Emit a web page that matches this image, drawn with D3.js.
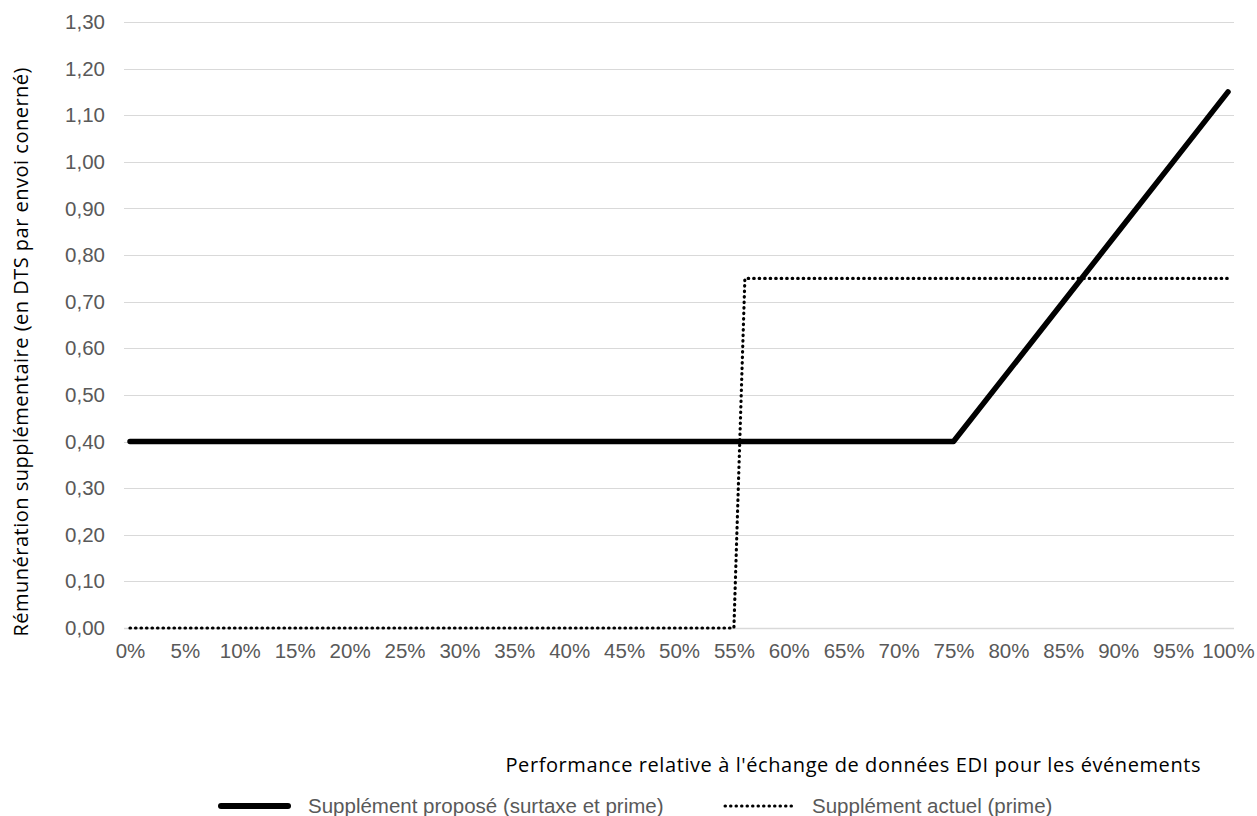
<!DOCTYPE html>
<html lang="fr">
<head>
<meta charset="utf-8">
<script src="https://cdn.jsdelivr.net/npm/d3@7"></script>
<style>
  html, body { margin: 0; padding: 0; background: #ffffff; }
  svg { display: block; }
</style>
</head>
<body>
<svg id="chart" width="1257" height="816"></svg>
<script>
// Performance levels (%) shown on the horizontal axis
const xTickValues = [0, 5, 10, 15, 20, 25, 30, 35, 40, 45, 50, 55, 60, 65, 70, 75, 80, 85, 90, 95, 100];
// Remuneration levels (SDR) shown on the vertical axis
const yTickValues = [0, 0.1, 0.2, 0.3, 0.4, 0.5, 0.6, 0.7, 0.8, 0.9, 1.0, 1.1, 1.2, 1.3];

// Proposed supplement (surcharge + bonus): performance % and SDR amount
const proposedPerf = [0, 75, 80, 85, 90, 95, 100];
const proposedValue = [0.40, 0.40, 0.55, 0.70, 0.85, 1.00, 1.15];

// Current supplement (bonus only): performance % and SDR amount
const currentPerf = [0, 55, 56, 100];
const currentValue = [0.00, 0.00, 0.75, 0.75];

const seriesNames = ["Supplément proposé (surtaxe et prime)", "Supplément actuel (prime)"];
const yTitle = "Rémunération supplémentaire (en DTS par envoi conerné)";
const xTitle = "Performance relative à l'échange de données EDI pour les événements";

const svg = d3.select("#chart");

const gridLeft = 124, gridRight = 1234;
const x = d3.scaleLinear().domain([0, 100]).range([130, 1228]);
const y = d3.scaleLinear().domain([0, 1.3]).range([628, 22]);

const tickFont = "'Liberation Sans', Arial, sans-serif";
const titleFont = "'Open Sans', sans-serif";
const grey = "#595959";
const labelSize = "20.5px";

// Horizontal gridlines
svg.append("g")
  .selectAll("line")
  .data(yTickValues)
  .join("line")
  .attr("x1", gridLeft)
  .attr("x2", gridRight)
  .attr("y1", d => Math.round(y(d)) + 0.5)
  .attr("y2", d => Math.round(y(d)) + 0.5)
  .attr("stroke", "#d9d9d9")
  .attr("stroke-width", d => d === 0 ? 1.6 : 1.2);

// Y axis labels (comma decimal)
const fmtY = d => d3.format(".2f")(d).replace(".", ",");
const yAxis = d3.axisLeft(y).tickValues(yTickValues).tickFormat(fmtY).tickSize(0).tickPadding(0);
const gy = svg.append("g").attr("transform", "translate(105,0)").call(yAxis);
gy.select(".domain").remove();
gy.selectAll("text")
  .attr("fill", grey)
  .style("font-family", tickFont)
  .style("font-size", labelSize);

// X axis labels
const xAxis = d3.axisBottom(x).tickValues(xTickValues).tickFormat(d => d + "%").tickSize(0).tickPadding(0);
const gx = svg.append("g").attr("transform", "translate(0,643)").call(xAxis);
gx.select(".domain").remove();
gx.selectAll("text")
  .attr("fill", grey)
  .style("font-family", tickFont)
  .style("font-size", labelSize);

// Lines
const line = d3.line().x(d => x(d[0])).y(d => y(d[1]));
const proposed = d3.zip(proposedPerf, proposedValue);
const current = d3.zip(currentPerf, currentValue);

svg.append("path")
  .datum(current)
  .attr("d", line)
  .attr("fill", "none")
  .attr("stroke", "#000")
  .attr("stroke-width", 3.2)
  .attr("stroke-linecap", "round")
  .attr("stroke-dasharray", "0.5 5");

svg.append("path")
  .datum(proposed)
  .attr("d", line)
  .attr("fill", "none")
  .attr("stroke", "#000")
  .attr("stroke-width", 5.5)
  .attr("stroke-linecap", "round")
  .attr("stroke-linejoin", "round");

// Axis titles
svg.append("text")
  .attr("transform", "translate(28,352) rotate(-90)")
  .attr("text-anchor", "middle")
  .attr("fill", "#000")
  .attr("textLength", 569)
  .attr("lengthAdjust", "spacing")
  .style("font-family", titleFont)
  .style("font-size", "20px")
  .text(yTitle);

svg.append("text")
  .attr("x", 853)
  .attr("y", 772)
  .attr("text-anchor", "middle")
  .attr("fill", "#000")
  .attr("textLength", 695)
  .attr("lengthAdjust", "spacing")
  .style("font-family", titleFont)
  .style("font-size", "20px")
  .text(xTitle);

// Legend
const legend = svg.append("g");
legend.append("line")
  .attr("x1", 221).attr("x2", 288).attr("y1", 806).attr("y2", 806)
  .attr("stroke", "#000").attr("stroke-width", 6).attr("stroke-linecap", "round");
legend.append("text")
  .attr("x", 308).attr("y", 813)
  .attr("fill", grey)
  .style("font-family", tickFont)
  .style("font-size", labelSize)
  .text(seriesNames[0]);
legend.append("line")
  .attr("x1", 725).attr("x2", 794).attr("y1", 806).attr("y2", 806)
  .attr("stroke", "#000").attr("stroke-width", 3).attr("stroke-linecap", "round")
  .attr("stroke-dasharray", "0.5 5");
legend.append("text")
  .attr("x", 812).attr("y", 813)
  .attr("fill", grey)
  .style("font-family", tickFont)
  .style("font-size", labelSize)
  .text(seriesNames[1]);
</script>
</body>
</html>
